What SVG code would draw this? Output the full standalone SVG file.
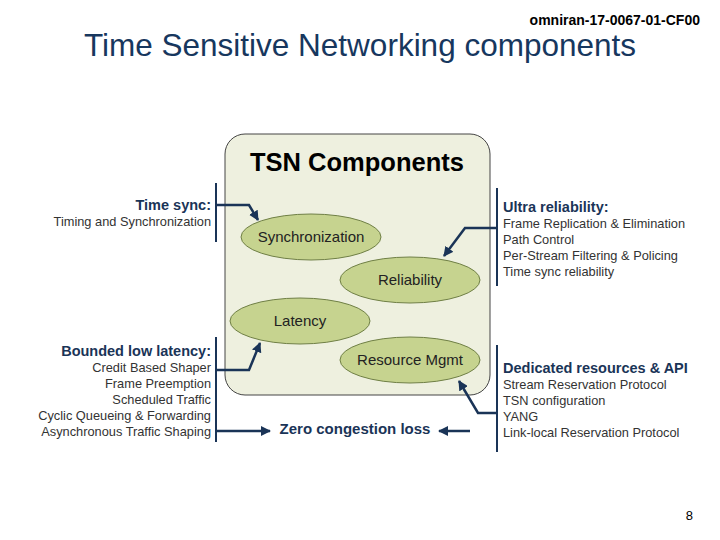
<svg xmlns="http://www.w3.org/2000/svg" width="720" height="540" viewBox="0 0 720 540">
<defs>
<marker id="ah" viewBox="0 0 10 10" refX="9" refY="5" markerWidth="4" markerHeight="4" orient="auto"><path d="M0,0L10,5L0,10z" fill="#1a3457"/></marker>
<style>
text{font-family:"Liberation Sans",Arial,sans-serif}
.el{fill:#c6d38f;stroke:#6f7f45;stroke-width:1}
.et{font-size:15px;fill:#222;text-anchor:middle}
.bar{stroke:#1a3457;stroke-width:2}
.ar{stroke:#1a3457;stroke-width:2.5;fill:none;marker-end:url(#ah)}
.h{font-size:14.5px;font-weight:bold;fill:#1a3457}
.s{font-size:12.8px;fill:#333}
</style>
</defs>
<rect width="720" height="540" fill="#fff"/>
<text x="700" y="25" font-size="14" font-weight="bold" text-anchor="end">omniran-17-0067-01-CF00</text>
<text x="360" y="56" font-size="31.5" fill="#17375e" text-anchor="middle">Time Sensitive Networking components</text>
<g id="box"><rect x="225" y="134" width="265" height="261" rx="20" fill="#eef0df" stroke="#444" stroke-width="1"/>
<text x="357" y="171" font-size="25.5" font-weight="bold" text-anchor="middle">TSN Components</text></g>
<g id="sync"><ellipse class="el" cx="311" cy="237" rx="70" ry="23"/><text class="et" x="311" y="242">Synchronization</text></g>
<g id="rel"><ellipse class="el" cx="410" cy="280" rx="70" ry="23"/><text class="et" x="410" y="285">Reliability</text></g>
<g id="lat"><ellipse class="el" cx="300" cy="321" rx="70" ry="23"/><text class="et" x="300" y="326">Latency</text></g>
<g id="res"><ellipse class="el" cx="410" cy="360" rx="70" ry="23"/><text class="et" x="410" y="365">Resource Mgmt</text></g>
<g id="timesync"><text class="h" x="211" y="210" text-anchor="end">Time sync:</text><text class="s" x="211" y="226" text-anchor="end">Timing and Synchronization</text></g>
<g id="latency-l"><text class="h" x="211" y="356" text-anchor="end">Bounded low latency:</text>
<text class="s" x="211" y="372" text-anchor="end">Credit Based Shaper</text>
<text class="s" x="211" y="388" text-anchor="end">Frame Preemption</text>
<text class="s" x="211" y="404" text-anchor="end">Scheduled Traffic</text>
<text class="s" x="211" y="420" text-anchor="end">Cyclic Queueing &amp; Forwarding</text>
<text class="s" x="211" y="436" text-anchor="end">Asynchronous Traffic Shaping</text></g>
<g id="ultra"><text class="h" x="503" y="212">Ultra reliability:</text>
<text class="s" x="503" y="228">Frame Replication &amp; Elimination</text>
<text class="s" x="503" y="244">Path Control</text>
<text class="s" x="503" y="260">Per-Stream Filtering &amp; Policing</text>
<text class="s" x="503" y="276">Time sync reliability</text></g>
<g id="ded"><text class="h" x="503" y="373">Dedicated resources &amp; API</text>
<text class="s" x="503" y="389">Stream Reservation Protocol</text>
<text class="s" x="503" y="405">TSN configuration</text>
<text class="s" x="503" y="421">YANG</text>
<text class="s" x="503" y="437">Link-local Reservation Protocol</text></g>
<g id="zero"><text x="355" y="434" font-size="15" font-weight="bold" fill="#1a3457" text-anchor="middle">Zero congestion loss</text></g>
<g id="connectors">
<line class="bar" x1="216" y1="183" x2="216" y2="242"/>
<line class="bar" x1="216" y1="337" x2="216" y2="442"/>
<line class="bar" x1="497" y1="188" x2="497" y2="286"/>
<line class="bar" x1="497" y1="345" x2="497" y2="452"/>
<path class="ar" d="M216,205H249L258,220"/>
<path class="ar" d="M216,370H249L260,343"/>
<path class="ar" d="M216,431H270"/>
<path class="ar" d="M497,228H465L444,256"/>
<path class="ar" d="M497,413H478L459,381"/>
<path class="ar" d="M470,431H439"/>
</g>
<text x="693" y="520" font-size="13" text-anchor="end">8</text>
</svg>
